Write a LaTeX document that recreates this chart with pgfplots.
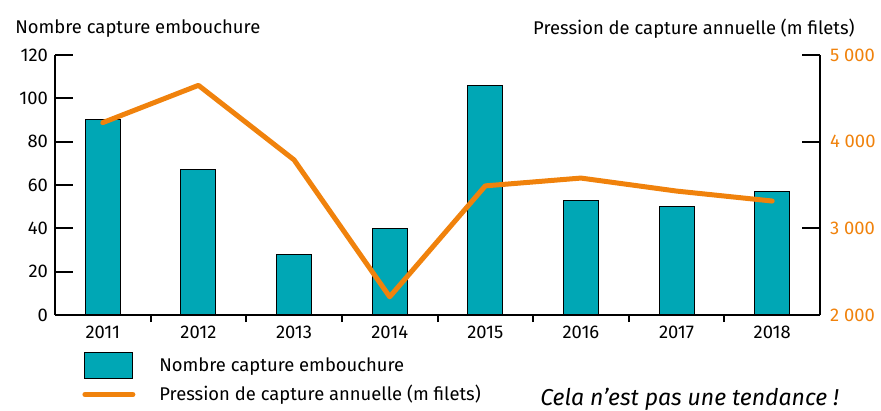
\documentclass[border=0pt]{standalone}
\usepackage{pgfplots}
\usepackage{pgfplotstable}
\pgfplotsset{compat=1.18}
\usepackage{fontspec}
\setmainfont{Fira Sans}

\definecolor{barteal}{RGB}{0,167,181}
\definecolor{lineorange}{RGB}{240,130,12}

\pgfplotstableread{
idx annee captures pression
0 2011 90 4220
1 2012 67 4650
2 2013 28 3790
3 2014 40 2210
4 2015 106 3490
5 2016 53 3580
6 2017 50 3430
7 2018 57 3315
}\data

\pgfplotsset{
  commonaxis/.style={
    scale only axis,
    width=382.5pt, height=130pt,
    xmin=-0.5, xmax=7.5,
    font=\fontsize{9.2}{11}\selectfont,
    /pgf/number format/assume math mode=true,
    axis line style={line width=1pt},
    tick style={line width=1pt, black},
    tick align=inside,
    major tick length=9pt,
  },
  boxlegend/.style={legend image code/.code={\draw[##1] (0pt,-6.5pt) rectangle (24pt,6.5pt);}},
  linelegend/.style={legend image code/.code={\draw[##1] (0pt,0pt) -- (24pt,0pt);}},
}

\begin{document}
\begin{tikzpicture}
\begin{axis}[
  commonaxis,
  axis x line*=bottom,
  axis y line*=left,
  ymin=0, ymax=120,
  ytick distance=20,
  xtick=data,
  xticklabels from table={\data}{annee},
  xticklabel style={yshift=7pt},
  major x tick style={draw=none},
  minor xtick={0.5,1.5,...,6.5},
  minor tick length=3.5pt,
  ybar, bar width=17.5pt,
  title={Nombre capture embouchure},
  title style={at={(axis description cs:0,1)}, anchor=base west,
    xshift=-20pt, yshift=4.5pt, inner sep=0pt},
]
\addplot[fill=barteal, draw=black, line width=0.5pt] table[x=idx, y=captures] {\data};
\end{axis}

\begin{axis}[
  commonaxis,
  axis x line=none,
  axis y line*=right,
  ymin=2000, ymax=5000,
  ytick distance=1000,
  yticklabel style={text=lineorange, xshift=1.5pt},
  /pgf/number format/1000 sep={\ },
  title={Pression de capture annuelle (m filets)},
  title style={at={(axis description cs:1,1)}, anchor=base east,
    xshift=17.5pt, yshift=4.5pt, inner sep=0pt},
  legend style={at={(axis description cs:0.0353,-0.142)}, anchor=north west,
    draw=none, fill=none, inner sep=0pt, row sep=3pt,
    nodes={inner sep=0pt},
    /tikz/every odd column/.append style={column sep=12pt}},
  legend cell align=left,
]
\addlegendimage{fill=barteal, draw=black, line width=0.5pt, boxlegend}
\addlegendentry{Nombre capture embouchure}
\addplot[lineorange, line width=2.5pt, line join=round, line cap=round, linelegend]
  table[x=idx, y=pression] {\data};
\addlegendentry{Pression de capture annuelle (m filets)}
\end{axis}
\node[anchor=base west, inner sep=0pt, font=\fontsize{11.5}{13}\selectfont\itshape]
  at (242.5pt,-45pt) {Cela n’est pas une tendance !};
\pgfresetboundingbox
\path[use as bounding box] (-27.5pt,-48pt) rectangle (413pt,157.5pt);
\end{tikzpicture}
\end{document}
